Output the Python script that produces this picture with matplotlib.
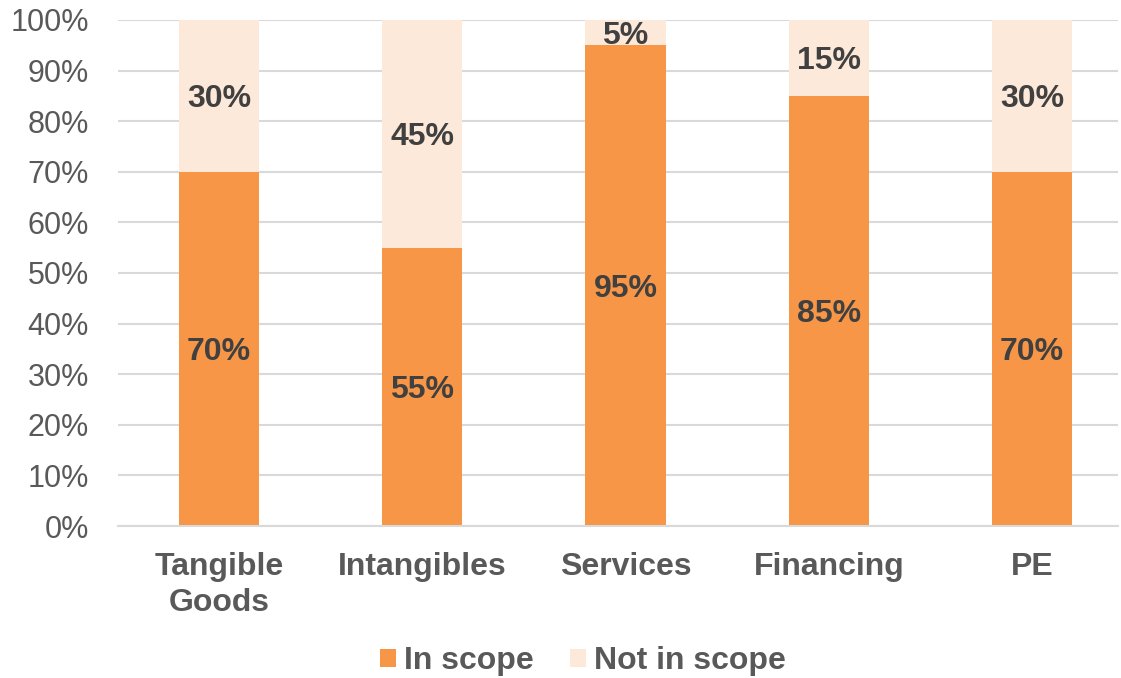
import numpy as np
import matplotlib.pyplot as plt

# chart data
categories = ['Tangible\nGoods', 'Intangibles', 'Services', 'Financing', 'PE']
in_scope = np.array([70, 55, 95, 85, 70])
not_in_scope = np.array([30, 45, 5, 15, 30])

plt.rcParams['font.family'] = ['Liberation Sans', 'DejaVu Sans']

fig = plt.figure(figsize=(11.21, 6.78), dpi=100)
ax = fig.add_axes([118 / 1121, 1 - 526 / 678, 1000 / 1121, 506 / 678])

x = np.arange(len(categories))
w = 0.395
b1 = ax.bar(x, in_scope, w, color='#F79646', label='In scope', zorder=2)
b2 = ax.bar(x, not_in_scope, w, bottom=in_scope, color='#FDE9D9',
            label='Not in scope', zorder=2)

# data labels in the middle of each segment
for xi, v in zip(x, in_scope):
    ax.text(xi, v / 2, f'{v}%', ha='center', va='center_baseline', fontsize=23,
            fontweight='bold', color='#404040')
for xi, base, v in zip(x, in_scope, not_in_scope):
    ax.text(xi, base + v / 2, f'{v}%', ha='center', va='center_baseline', fontsize=23,
            fontweight='bold', color='#404040')

ax.set_ylim(0, 100)
ax.set_xlim(-0.497, 4.423)
ax.set_yticks(range(0, 101, 10))
ax.set_yticklabels([f'{t}%' for t in range(0, 101, 10)], fontsize=22,
                   color='#595959')
ax.set_xticks(x)
ax.set_xticklabels(categories, fontsize=23, fontweight='bold', color='#595959',
                   linespacing=1.25)
ax.tick_params(axis='both', length=0)
ax.tick_params(axis='x', pad=19)
ax.tick_params(axis='y', pad=21)

ax.grid(axis='y', color='#D9D9D9', linewidth=1.5, zorder=0)
for s in ['top', 'right', 'left']:
    ax.spines[s].set_visible(False)
ax.spines['bottom'].set_color('#D9D9D9')
ax.spines['bottom'].set_linewidth(1.5)

leg = fig.legend(handles=[b1, b2], loc='center', bbox_to_anchor=(0.52, 1 - 661 / 678),
                 ncol=2, frameon=False, handlelength=0.5, handleheight=0.5,
                 handletextpad=0.25, columnspacing=1.15,
                 prop={'size': 23, 'weight': 'bold'})
for t in leg.get_texts():
    t.set_color('#595959')

fig.savefig('out.png', dpi=100)
